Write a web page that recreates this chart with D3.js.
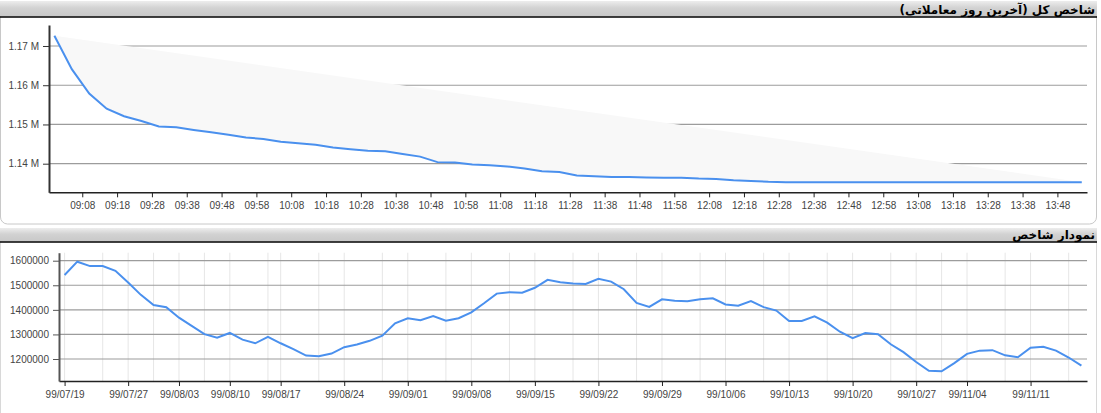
<!DOCTYPE html>
<html>
<head>
<meta charset="utf-8">
<script src="https://cdn.jsdelivr.net/npm/d3@7/dist/d3.min.js"></script>
<style>
  html, body { margin: 0; padding: 0; background: #fff; }
  svg { display: block; }
  .tick text { font-family: "Liberation Sans", Arial, sans-serif; font-size: 10px; fill: #444; }
  .title { font-family: "DejaVu Sans", Tahoma, sans-serif; font-size: 12px; font-weight: bold; fill: #000; }
</style>
</head>
<body>
<svg id="chart" width="1101" height="413"></svg>
<script>
// ---------- DATA ----------
const topTitle = "شاخص کل (آخرین روز معاملاتی)";
const bottomTitle = "نمودار شاخص";

const intradayTimes = [
  "09:00","09:05","09:10","09:15","09:20","09:25","09:30","09:35","09:40","09:45",
  "09:50","09:55","10:00","10:05","10:10","10:15","10:20","10:25","10:30","10:35",
  "10:40","10:45","10:50","10:55","11:00","11:05","11:10","11:15","11:20","11:25",
  "11:30","11:35","11:40","11:45","11:50","11:55","12:00","12:05","12:10","12:15",
  "12:20","12:25","12:30","12:35","12:40","12:45","12:50","12:55","13:00","13:05",
  "13:10","13:15","13:20","13:25","13:30","13:35","13:40","13:45","13:50","13:55"
];
const intradayValues = [
  1172600,1164100,1157900,1154000,1152100,1150900,1149500,1149300,1148600,1148000,
  1147400,1146700,1146300,1145600,1145200,1144800,1144100,1143700,1143300,1143200,
  1142500,1141800,1140400,1140300,1139800,1139600,1139300,1138800,1138100,1137900,
  1137000,1136800,1136600,1136600,1136500,1136400,1136400,1136200,1136100,1135800,
  1135600,1135400,1135300,1135300,1135300,1135300,1135300,1135300,1135300,1135300,
  1135300,1135300,1135300,1135300,1135300,1135300,1135300,1135300,1135300,1135300
];
const intradayTickLabels = [
  "09:08","09:18","09:28","09:38","09:48","09:58","10:08","10:18","10:28","10:38",
  "10:48","10:58","11:08","11:18","11:28","11:38","11:48","11:58","12:08","12:18",
  "12:28","12:38","12:48","12:58","13:08","13:18","13:28","13:38","13:48"
];
const intradayYTicks = [1140000, 1150000, 1160000, 1170000];

const dailyDates = [
  "99/07/19","99/07/20","99/07/21","99/07/22","99/07/23","99/07/27","99/07/28","99/07/29","99/07/30",
  "99/08/03","99/08/04","99/08/06","99/08/07","99/08/10","99/08/11","99/08/12","99/08/14",
  "99/08/17","99/08/18","99/08/19","99/08/20","99/08/21","99/08/24","99/08/25","99/08/26","99/08/27","99/08/28",
  "99/09/01","99/09/02","99/09/03","99/09/04","99/09/05","99/09/08","99/09/09","99/09/10","99/09/11","99/09/12",
  "99/09/15","99/09/16","99/09/17","99/09/18","99/09/19","99/09/22","99/09/23","99/09/24","99/09/25","99/09/26",
  "99/09/29","99/09/30","99/10/01","99/10/02","99/10/03","99/10/06","99/10/07","99/10/08","99/10/09","99/10/10",
  "99/10/13","99/10/14","99/10/15","99/10/16","99/10/17","99/10/20","99/10/21","99/10/22","99/10/23","99/10/24",
  "99/10/27","99/10/28","99/10/29","99/11/01","99/11/04","99/11/05","99/11/06","99/11/07","99/11/08",
  "99/11/11","99/11/12","99/11/13","99/11/14","99/11/15"
];
const dailyValues = [
  1542000,1596000,1578000,1578000,1559000,1511000,1461000,1420000,1411000,
  1368000,1335000,1301000,1287000,1306000,1279000,1264000,1290000,
  1264000,1240000,1214000,1211000,1222000,1248000,1259000,1274000,1295000,1345000,
  1366000,1358000,1375000,1356000,1366000,1390000,1427000,1466000,1472000,1470000,
  1490000,1522000,1512000,1507000,1505000,1526000,1515000,1484000,1428000,1412000,
  1443000,1437000,1435000,1443000,1447000,1422000,1417000,1436000,1411000,1397000,
  1355000,1355000,1374000,1348000,1311000,1285000,1306000,1301000,1260000,1228000,
  1188000,1152000,1150000,1183000,1221000,1234000,1236000,1215000,1207000,
  1246000,1250000,1234000,1206000,1173000
];
const dailyTickLabels = [
  "99/07/19","99/07/27","99/08/03","99/08/10","99/08/17","99/08/24","99/09/01","99/09/08",
  "99/09/15","99/09/22","99/09/29","99/10/06","99/10/13","99/10/20","99/10/27","99/11/04","99/11/11"
];
const dailyMinorGrid = [
  "99/07/22","99/07/29","99/08/06","99/08/14","99/08/20","99/08/27","99/09/04","99/09/11",
  "99/09/18","99/09/25","99/10/02","99/10/09","99/10/16","99/10/23","99/10/29","99/11/07","99/11/14"
];
const dailyYTicks = [1200000, 1300000, 1400000, 1500000, 1600000];

// ---------- DRAW ----------
const svg = d3.select("#chart");
const LINE = "#4a90ee";
const toDate = s => { const [h, m] = s.split(":").map(Number); return new Date(2020, 0, 1, h, m); };

const defs = svg.append("defs");
const grad = defs.append("linearGradient").attr("id", "hdr").attr("x1", 0).attr("x2", 0).attr("y1", 0).attr("y2", 1);
grad.append("stop").attr("offset", "0%").attr("stop-color", "#ededed");
grad.append("stop").attr("offset", "45%").attr("stop-color", "#d2d2d2");
grad.append("stop").attr("offset", "100%").attr("stop-color", "#c8c8c8");

function header(y0, y1, text) {
  svg.append("rect").attr("x", 0).attr("y", y0).attr("width", 1097).attr("height", y1 - y0).attr("fill", "url(#hdr)");
  svg.append("line").attr("x1", 0).attr("x2", 1097).attr("y1", y1 + 0.5).attr("y2", y1 + 0.5)
    .attr("stroke", "#000").attr("stroke-width", 1.5);
  svg.append("text").attr("class", "title").attr("x", 1095).attr("y", y1 - 3)
    .attr("text-anchor", "end").text(text);
}

// panels
svg.append("rect").attr("x", 0.5).attr("y", 10).attr("width", 1096).attr("height", 214).attr("rx", 7)
  .attr("fill", "#fff").attr("stroke", "#c8c8c8");
svg.append("rect").attr("x", 0.5).attr("y", 236).attr("width", 1096).attr("height", 200).attr("rx", 7)
  .attr("fill", "#fff").attr("stroke", "#d8d8d8");
header(1, 16.5, topTitle);
header(228, 241.5, bottomTitle);

// ---- top chart ----
const tX0 = 49, tX1 = 1087, tYtop = 25, tYbot = 192.3;
const tTimes = intradayTimes.map(toDate);
const xT = d3.scaleTime()
  .domain([new Date(+tTimes[0] - 1.55 * 60000), new Date(+tTimes[tTimes.length - 1] + 1.5 * 60000)])
  .range([tX0, tX1]);
const yT = d3.scaleLinear().domain([1132710, 1175350]).range([tYbot, tYtop]);

const gT = svg.append("g");
// gridlines
gT.selectAll("line.hg").data(intradayYTicks).join("line")
  .attr("x1", tX0).attr("x2", tX1).attr("y1", d => yT(d)).attr("y2", d => yT(d))
  .attr("stroke", "#9c9c9c").attr("stroke-width", 1.2);
// light area between chord and line
const tPts = tTimes.map((t, i) => [xT(t), yT(intradayValues[i])]);
const poly = tPts.concat([tPts[0]]);
gT.append("path").attr("d", d3.line()(poly)).attr("fill", "#f8f8f8").attr("stroke", "none");
// line
gT.append("path").datum(intradayValues)
  .attr("d", d3.line().x((d, i) => xT(tTimes[i])).y(d => yT(d)))
  .attr("fill", "none").attr("stroke", LINE).attr("stroke-width", 2);
// axes
const axTX = gT.append("g").attr("transform", `translate(0,${tYbot})`)
  .call(d3.axisBottom(xT).tickValues(intradayTickLabels.map(toDate)).tickFormat(d3.timeFormat("%H:%M")).tickSize(5).tickSizeOuter(0).tickPadding(5));
axTX.select(".domain").attr("stroke", "#222").attr("stroke-width", 1.5);
axTX.selectAll(".tick line").attr("stroke", "#222");
const axTY = gT.append("g").attr("transform", `translate(${tX0},0)`)
  .call(d3.axisLeft(yT).tickValues(intradayYTicks).tickFormat(d => (d / 1e6).toFixed(2) + " M").tickSize(6).tickSizeOuter(0).tickPadding(4));
axTY.select(".domain").attr("stroke", "#333").attr("stroke-width", 2);
axTY.selectAll(".tick line").attr("stroke", "#333");

// ---- bottom chart ----
const bX0 = 59, bX1 = 1087, bYtop = 252.7, bYbot = 381;
const xB = d3.scalePoint().domain(dailyDates).range([bX0, bX1]).padding(0.44);
const yB = d3.scaleLinear().domain([1110480, 1632550]).range([bYbot, bYtop]);
const gB = svg.append("g");
gB.selectAll("line.vg").data(dailyTickLabels.concat(dailyMinorGrid)).join("line")
  .attr("x1", d => xB(d)).attr("x2", d => xB(d)).attr("y1", bYtop).attr("y2", bYbot)
  .attr("stroke", "#e6e6e6").attr("stroke-width", 1);
gB.selectAll("line.hg").data(dailyYTicks).join("line")
  .attr("x1", bX0).attr("x2", bX1).attr("y1", d => yB(d)).attr("y2", d => yB(d))
  .attr("stroke", "#9c9c9c").attr("stroke-width", 1.2);
gB.append("path").datum(dailyValues)
  .attr("d", d3.line().x((d, i) => xB(dailyDates[i])).y(d => yB(d)))
  .attr("fill", "none").attr("stroke", LINE).attr("stroke-width", 2);
const axBX = gB.append("g").attr("transform", `translate(0,${bYbot})`)
  .call(d3.axisBottom(xB).tickValues(dailyTickLabels).tickSize(5).tickSizeOuter(0).tickPadding(5));
axBX.select(".domain").attr("stroke", "#222").attr("stroke-width", 1.5);
axBX.selectAll(".tick line").attr("stroke", "#222");
const axBY = gB.append("g").attr("transform", `translate(${bX0},0)`)
  .call(d3.axisLeft(yB).tickValues(dailyYTicks).tickFormat(d3.format("d")).tickSize(6).tickSizeOuter(0).tickPadding(4));
axBY.select(".domain").attr("stroke", "#555").attr("stroke-width", 2);
axBY.selectAll(".tick line").attr("stroke", "#555");
</script>
</body>
</html>
